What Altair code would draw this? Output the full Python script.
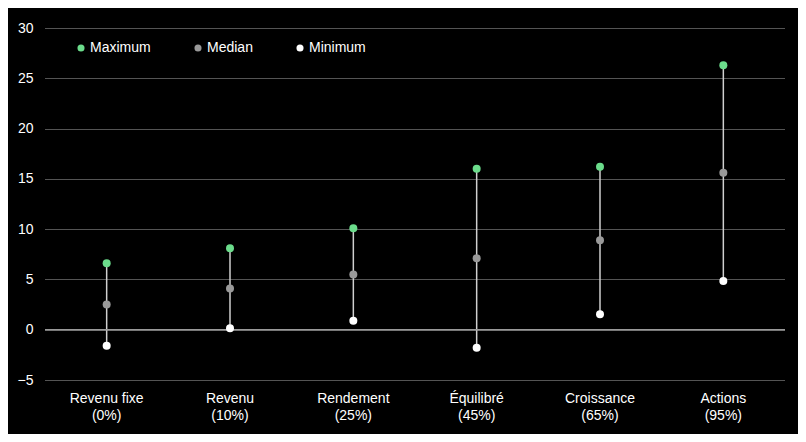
import altair as alt
import pandas as pd

categories = ["Revenu fixe\n(0%)", "Revenu\n(10%)", "Rendement\n(25%)", "Équilibré\n(45%)", "Croissance\n(65%)", "Actions\n(95%)"]
maximum = [6.6, 8.1, 10.1, 16.0, 16.2, 26.3]
median = [2.5, 4.1, 5.5, 7.1, 8.9, 15.6]
minimum = [-1.6, 0.15, 0.9, -1.8, 1.55, 4.85]
series = ["Maximum", "Median", "Minimum"]
colors = ["#6bdc8b", "#999999", "#ffffff"]

wide = pd.DataFrame({"cat": categories, "Maximum": maximum, "Median": median, "Minimum": minimum})
long = wide.melt(id_vars="cat", value_vars=series, var_name="series", value_name="value")

FONT = "Liberation Sans"

xenc = alt.X("cat:N", sort=categories, title=None,
             scale=alt.Scale(paddingInner=0, paddingOuter=0),
             axis=alt.Axis(labelExpr="split(datum.label, '\\n')", labelAngle=0, labelColor="white",
                           labelFont=FONT, labelFontSize=14, labelLineHeight=17,
                           labelPadding=11, ticks=False, domain=False, grid=False))
yscale = alt.Scale(domain=[-5, 30], nice=False)

zero = alt.Chart(pd.DataFrame({"v": [0]})).mark_rule(color="#9a9a9a", strokeWidth=1.5).encode(
    y=alt.Y("v:Q", scale=yscale)
)

stems = alt.Chart(wide).mark_rule(color="#cfcfcf", strokeWidth=1.5).encode(
    x=xenc,
    y=alt.Y("Minimum:Q", scale=yscale, title=None,
            axis=alt.Axis(values=list(range(-5, 31, 5)), labelColor="white", labelFont=FONT,
                          labelFontSize=14, ticks=False, domain=False, labelPadding=12,
                          grid=True, gridColor="#a8a8a8", gridDash=[1, 1], gridWidth=1)),
    y2="Maximum:Q",
)

points = alt.Chart(long).mark_point(filled=True, shape="circle", size=64, opacity=1).encode(
    x=alt.X("cat:N", sort=categories),
    y=alt.Y("value:Q", scale=yscale),
    color=alt.Color("series:N", scale=alt.Scale(domain=series, range=colors),
                    legend=alt.Legend(title=None, orient="none", legendX=29, legendY=13,
                                      direction="horizontal", symbolType="circle", symbolSize=50,
                                      labelColor="white", labelFont=FONT, labelFontSize=14,
                                      labelOffset=2, columnPadding=40, symbolOpacity=1)),
)

chart = alt.layer(stems, zero, points).properties(
    width=740, height=352,
    autosize=alt.AutoSizeParams(type="none"),
    padding={"left": 37, "top": 20, "right": 13, "bottom": 54},
    background="black",
).configure_view(stroke=None)

chart.save("out.html", embed_options={"renderer": "svg", "actions": False})
